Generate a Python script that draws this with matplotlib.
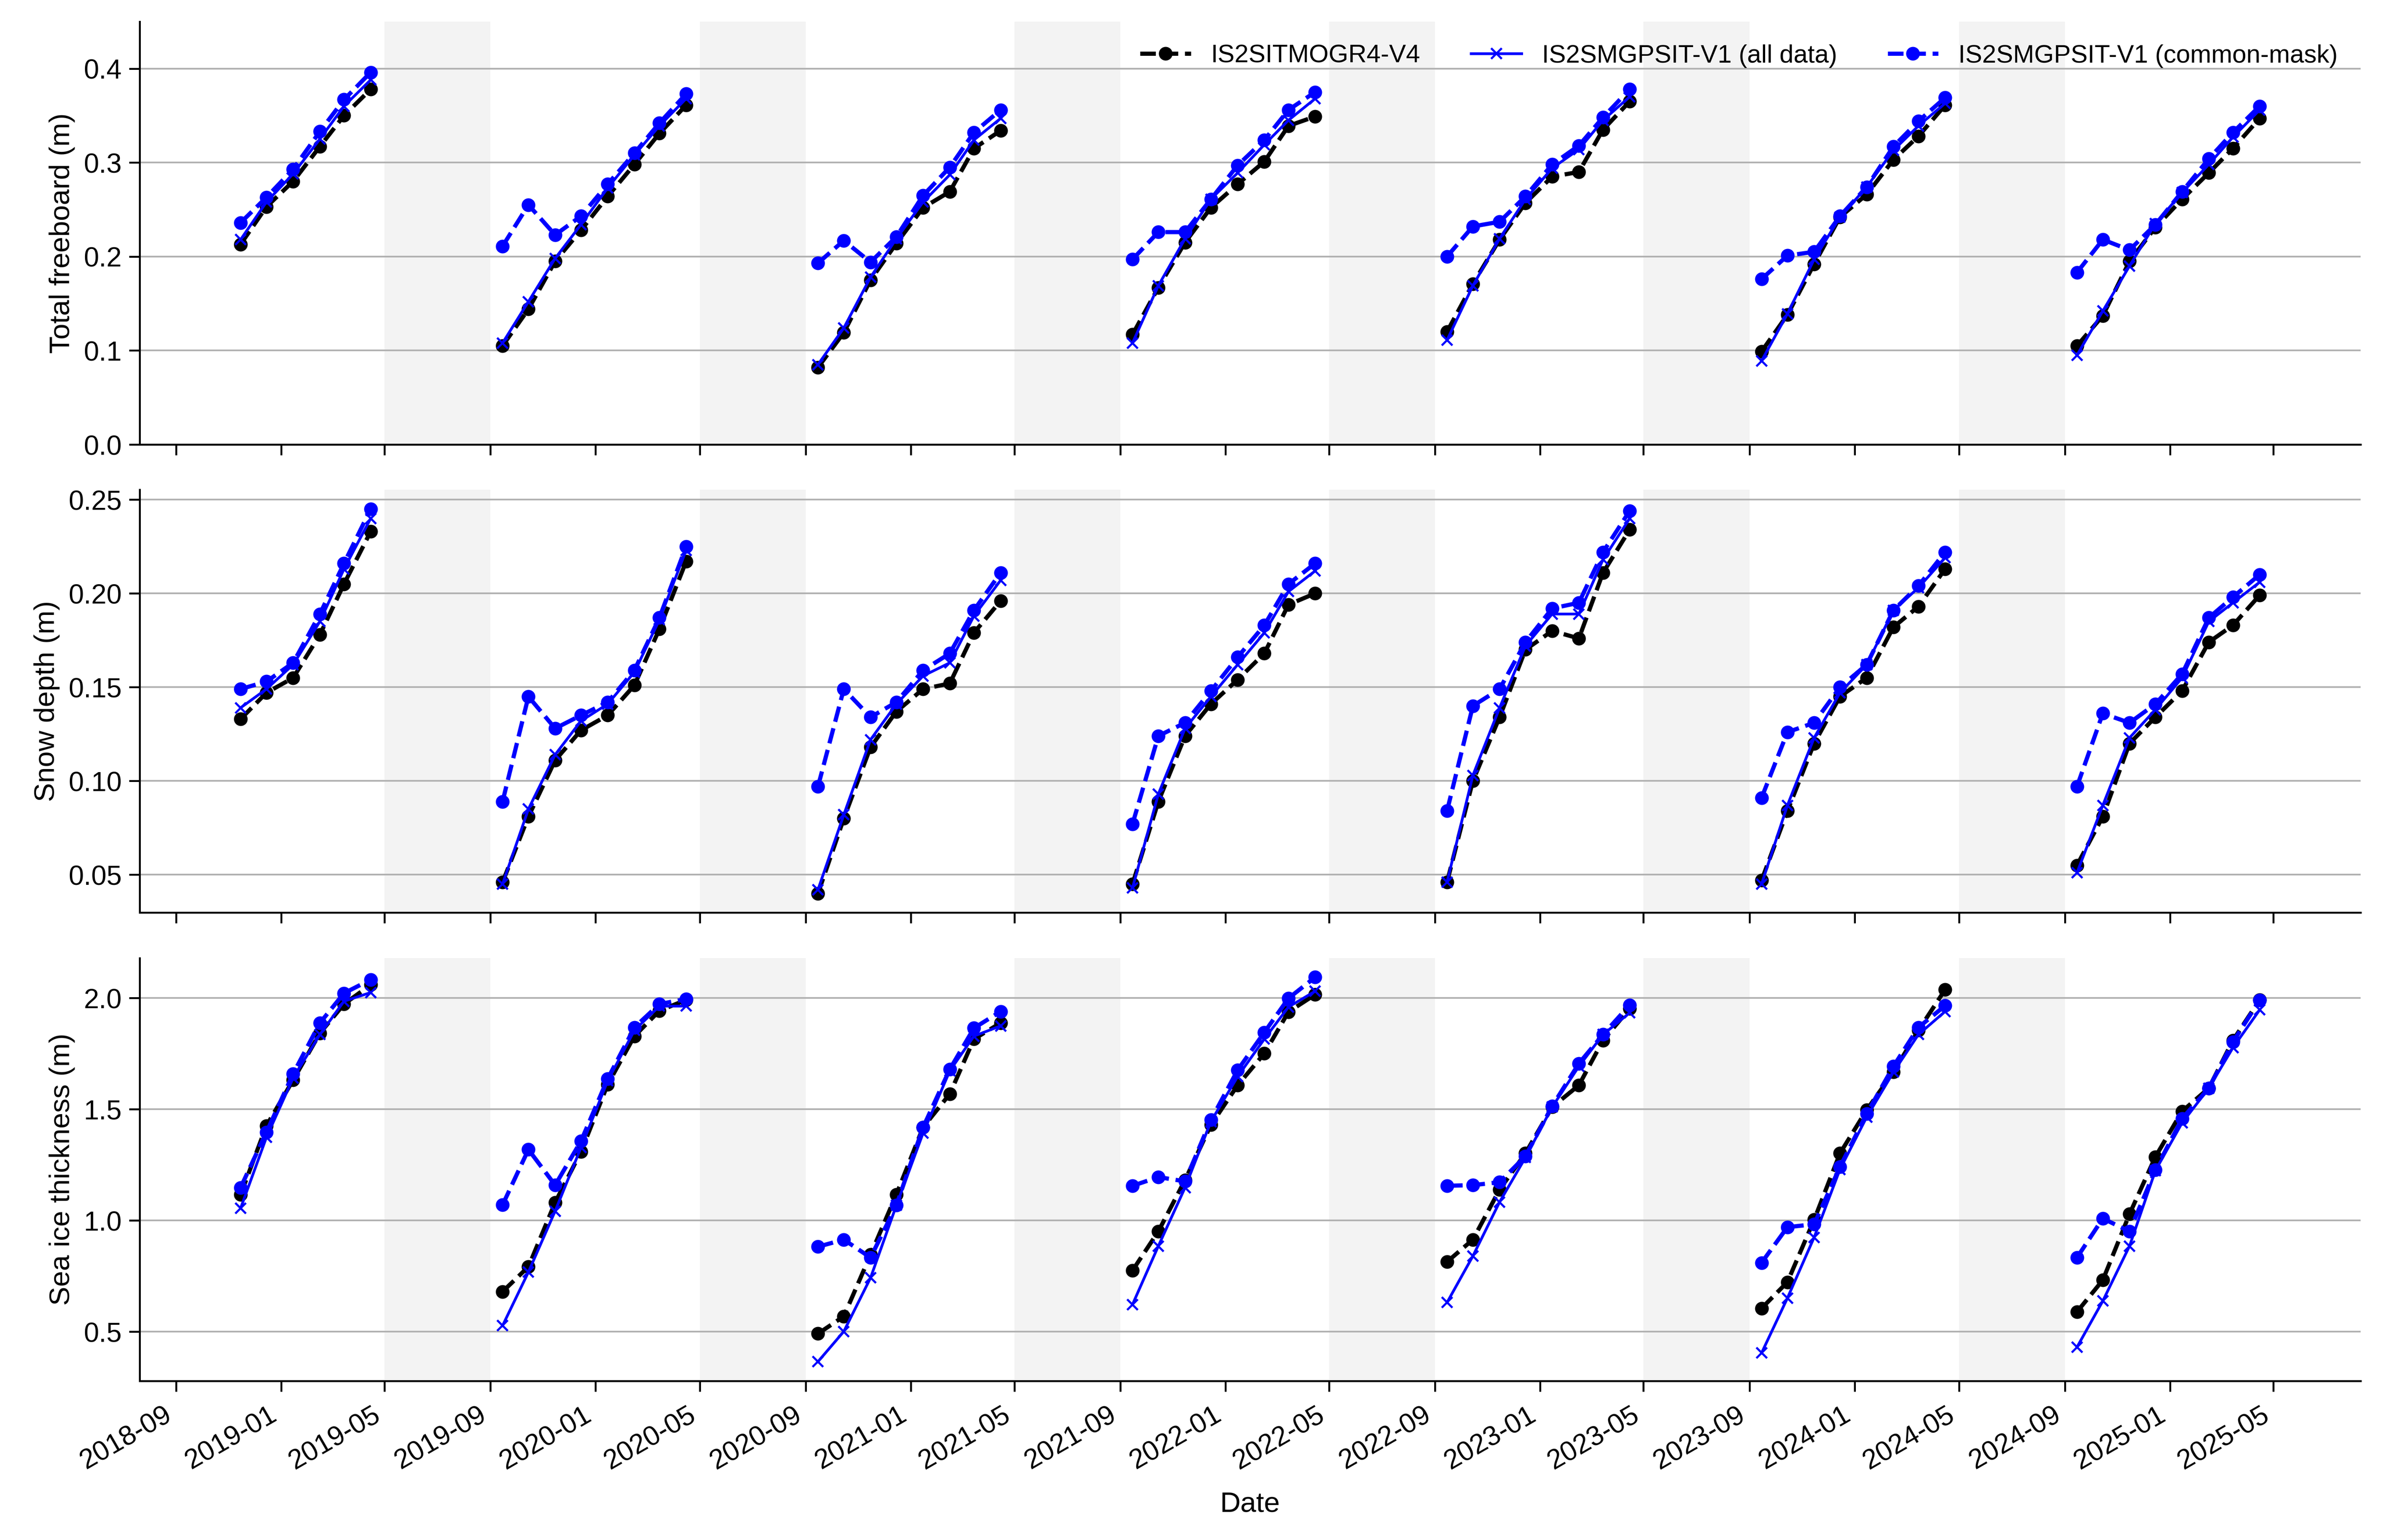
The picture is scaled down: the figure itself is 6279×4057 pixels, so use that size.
import numpy as np
import pandas as pd
import matplotlib
matplotlib.use("Agg")
import matplotlib.pyplot as plt
import matplotlib.dates as mdates
from matplotlib.ticker import MultipleLocator

plt.rcParams['font.family'] = ['Liberation Sans', 'DejaVu Sans']
plt.rcParams['font.size'] = 13
plt.rcParams['xtick.major.size'] = 5
plt.rcParams['ytick.major.size'] = 5
plt.rcParams['xtick.major.width'] = 0.9
plt.rcParams['ytick.major.width'] = 0.9
plt.rcParams['xtick.major.pad'] = 5
plt.rcParams['axes.linewidth'] = 0.9

# winter seasons (first and last month of each), monthly values at mid-month
season_start = ["2018-11", "2019-09", "2020-09", "2021-09", "2022-09", "2023-09", "2024-09"]
season_end = ["2019-04", "2020-04", "2021-04", "2022-04", "2023-04", "2024-04", "2025-04"]

# total freeboard (m)
fb_mogr = [0.213, 0.253, 0.280, 0.317, 0.350, 0.378,
           0.105, 0.144, 0.195, 0.228, 0.264, 0.298, 0.331, 0.361,
           0.082, 0.119, 0.175, 0.214, 0.252, 0.269, 0.315, 0.334,
           0.117, 0.167, 0.215, 0.252, 0.277, 0.301, 0.339, 0.349,
           0.120, 0.171, 0.218, 0.257, 0.285, 0.290, 0.335, 0.365,
           0.099, 0.138, 0.192, 0.242, 0.266, 0.303, 0.328, 0.361,
           0.105, 0.137, 0.195, 0.231, 0.261, 0.289, 0.315, 0.347]
fb_all = [0.218, 0.258, 0.288, 0.325, 0.360, 0.388,
          0.108, 0.152, 0.198, 0.234, 0.273, 0.308, 0.339, 0.368,
          0.085, 0.124, 0.178, 0.219, 0.258, 0.287, 0.324, 0.347,
          0.108, 0.169, 0.219, 0.261, 0.289, 0.319, 0.345, 0.368,
          0.111, 0.169, 0.219, 0.261, 0.294, 0.314, 0.345, 0.370,
          0.089, 0.139, 0.197, 0.242, 0.274, 0.313, 0.339, 0.363,
          0.095, 0.142, 0.190, 0.235, 0.268, 0.298, 0.327, 0.356]
fb_mask = [0.236, 0.263, 0.293, 0.333, 0.367, 0.396,
           0.211, 0.255, 0.223, 0.243, 0.277, 0.310, 0.342, 0.373,
           0.193, 0.217, 0.194, 0.221, 0.265, 0.295, 0.332, 0.356,
           0.197, 0.226, 0.226, 0.261, 0.297, 0.324, 0.356, 0.375,
           0.200, 0.232, 0.237, 0.264, 0.298, 0.318, 0.348, 0.378,
           0.176, 0.201, 0.205, 0.243, 0.274, 0.317, 0.344, 0.369,
           0.183, 0.218, 0.207, 0.234, 0.269, 0.304, 0.332, 0.360]

# snow depth (m)
sd_mogr = [0.133, 0.147, 0.155, 0.178, 0.205, 0.233,
           0.046, 0.081, 0.111, 0.127, 0.135, 0.151, 0.181, 0.217,
           0.040, 0.080, 0.118, 0.137, 0.149, 0.152, 0.179, 0.196,
           0.045, 0.089, 0.124, 0.141, 0.154, 0.168, 0.194, 0.200,
           0.046, 0.100, 0.134, 0.170, 0.180, 0.176, 0.211, 0.234,
           0.047, 0.084, 0.120, 0.145, 0.155, 0.182, 0.193, 0.213,
           0.055, 0.081, 0.120, 0.134, 0.148, 0.174, 0.183, 0.199]
sd_all = [0.139, 0.149, 0.162, 0.185, 0.213, 0.240,
          0.045, 0.085, 0.114, 0.132, 0.141, 0.158, 0.186, 0.223,
          0.042, 0.082, 0.122, 0.141, 0.156, 0.163, 0.188, 0.207,
          0.043, 0.093, 0.128, 0.145, 0.162, 0.179, 0.201, 0.212,
          0.046, 0.103, 0.139, 0.172, 0.189, 0.189, 0.218, 0.240,
          0.045, 0.087, 0.123, 0.147, 0.162, 0.191, 0.203, 0.219,
          0.051, 0.087, 0.123, 0.138, 0.155, 0.185, 0.195, 0.206]
sd_mask = [0.149, 0.153, 0.163, 0.189, 0.216, 0.245,
           0.089, 0.145, 0.128, 0.135, 0.142, 0.159, 0.187, 0.225,
           0.097, 0.149, 0.134, 0.142, 0.159, 0.168, 0.191, 0.211,
           0.077, 0.124, 0.131, 0.148, 0.166, 0.183, 0.205, 0.216,
           0.084, 0.140, 0.149, 0.174, 0.192, 0.195, 0.222, 0.244,
           0.091, 0.126, 0.131, 0.150, 0.162, 0.191, 0.204, 0.222,
           0.097, 0.136, 0.131, 0.141, 0.157, 0.187, 0.198, 0.210]

# sea ice thickness (m)
sit_mogr = [1.116, 1.426, 1.632, 1.842, 1.973, 2.060,
            0.680, 0.792, 1.081, 1.309, 1.612, 1.829, 1.943, 1.992,
            0.491, 0.569, 0.846, 1.117, 1.419, 1.569, 1.816, 1.888,
            0.775, 0.951, 1.182, 1.430, 1.608, 1.751, 1.938, 2.016,
            0.814, 0.914, 1.139, 1.302, 1.510, 1.608, 1.810, 1.953,
            0.605, 0.723, 1.003, 1.302, 1.497, 1.667, 1.855, 2.038,
            0.589, 0.732, 1.029, 1.286, 1.491, 1.595, 1.810, 1.992]
sit_all = [1.055, 1.374, 1.641, 1.836, 1.986, 2.025,
           0.527, 0.768, 1.042, 1.328, 1.628, 1.855, 1.964, 1.964,
           0.365, 0.501, 0.742, 1.068, 1.393, 1.673, 1.829, 1.875,
           0.622, 0.885, 1.148, 1.445, 1.647, 1.816, 1.960, 2.031,
           0.631, 0.840, 1.083, 1.283, 1.510, 1.693, 1.836, 1.934,
           0.404, 0.651, 0.924, 1.230, 1.465, 1.667, 1.836, 1.940,
           0.430, 0.638, 0.885, 1.224, 1.439, 1.595, 1.777, 1.947]
sit_mask = [1.148, 1.397, 1.660, 1.888, 2.022, 2.083,
            1.070, 1.319, 1.159, 1.357, 1.637, 1.868, 1.973, 1.996,
            0.882, 0.914, 0.833, 1.068, 1.419, 1.680, 1.865, 1.940,
            1.156, 1.195, 1.176, 1.452, 1.676, 1.846, 1.999, 2.094,
            1.156, 1.159, 1.172, 1.289, 1.514, 1.706, 1.836, 1.969,
            0.810, 0.970, 0.983, 1.241, 1.480, 1.693, 1.868, 1.966,
            0.833, 1.009, 0.951, 1.227, 1.458, 1.595, 1.803, 1.990]

# summer gaps (no data)
summer_start = ["2019-05-01", "2020-05-01", "2021-05-01", "2022-05-01", "2023-05-01", "2024-05-01"]
summer_end = ["2019-09-01", "2020-09-01", "2021-09-01", "2022-09-01", "2023-09-01", "2024-09-01"]

labels = ["IS2SITMOGR4-V4", "IS2SMGPSIT-V1 (all data)", "IS2SMGPSIT-V1 (common-mask)"]
ylabels = ["Total freeboard (m)", "Snow depth (m)", "Sea ice thickness (m)"]

season_dates = []
for s, e in zip(season_start, season_end):
    season_dates.append(pd.date_range(s + "-01", e + "-01", freq="MS") + pd.Timedelta(days=14))
n_per = [len(d) for d in season_dates]
cuts = np.cumsum(n_per)[:-1]


def plot_var(ax, mogr, alld, mask):
    for i, (m, a, k) in enumerate(zip(np.split(np.array(mogr), cuts),
                                      np.split(np.array(alld), cuts),
                                      np.split(np.array(mask), cuts))):
        d = season_dates[i]
        ax.plot(d, m, color="black", ls="--", marker="o", lw=2, ms=5.5,
                label=labels[0] if i == 0 else None)
        ax.plot(d, a, color="blue", ls="-", marker="x", lw=1.3, ms=5,
                label=labels[1] if i == 0 else None)
        ax.plot(d, k, color="blue", ls="--", marker="o", lw=2, ms=5.5,
                label=labels[2] if i == 0 else None)


fig, axes = plt.subplots(3, 1, figsize=(6279 / 400, 4057 / 400), sharex=True)
fig.subplots_adjust(left=0.0586, right=0.9906, top=0.986, bottom=0.1033, hspace=0.107)

data = [(fb_mogr, fb_all, fb_mask), (sd_mogr, sd_all, sd_mask), (sit_mogr, sit_all, sit_mask)]
for ax, (m, a, k), yl in zip(axes, data, ylabels):
    for s, e in zip(summer_start, summer_end):
        ax.axvspan(pd.Timestamp(s), pd.Timestamp(e), color="0.5", alpha=0.09, lw=0)
    plot_var(ax, m, a, k)
    ax.grid(axis="y", color="#b0b0b0", lw=0.8)
    ax.set_ylabel(yl, fontsize=13.5)
    ax.spines["top"].set_visible(False)
    ax.spines["right"].set_visible(False)

axes[0].set_ylim(0, 0.45)
axes[2].yaxis.set_major_locator(MultipleLocator(0.5))
axes[0].legend(loc="upper right", ncol=3, frameon=False, fontsize=12)

axes[2].xaxis.set_major_locator(mdates.MonthLocator(bymonth=[1, 5, 9]))
axes[2].xaxis.set_major_formatter(mdates.DateFormatter("%Y-%m"))
for lab in axes[2].get_xticklabels():
    lab.set_rotation(30)
    lab.set_ha("right")
axes[2].set_xlabel("Date", fontsize=13.5, labelpad=8)

fig.savefig("out.png", dpi=400)
